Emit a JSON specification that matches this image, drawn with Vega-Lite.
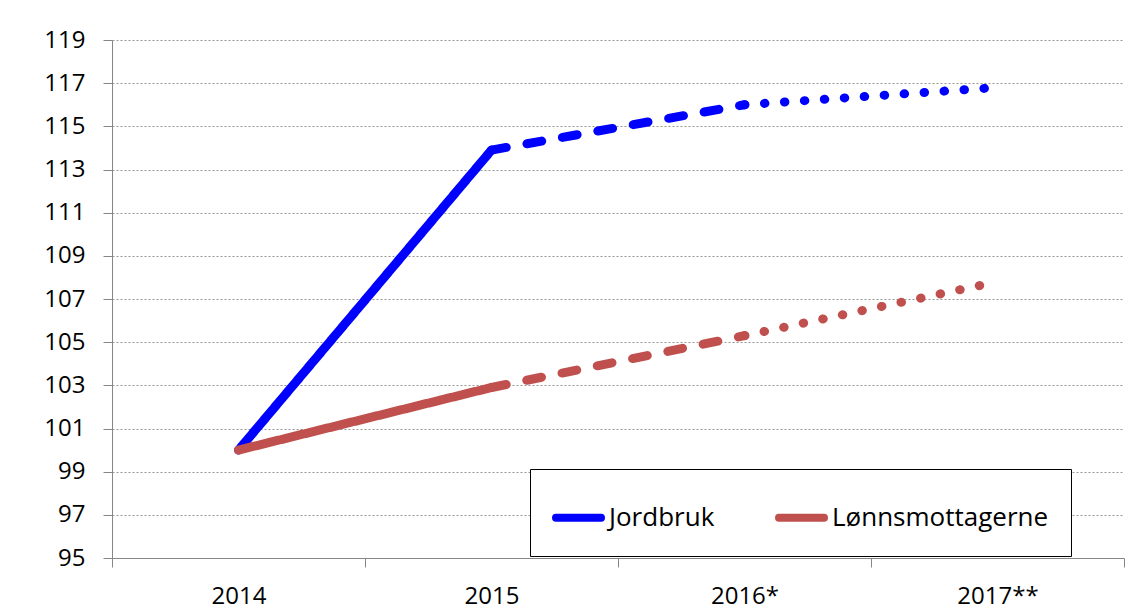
{
  "$schema": "https://vega.github.io/schema/vega-lite/v6.json",
  "width": 1012,
  "height": 518,
  "autosize": "none",
  "padding": {"left": 112, "top": 40, "right": 9, "bottom": 54},
  "background": "white",
  "data": {
    "values": [
      {"serie": "Jordbruk", "år": "2014", "indeks": 100, "periode": "faktisk"},
      {"serie": "Jordbruk", "år": "2015", "indeks": 113.9, "periode": "faktisk"},
      {"serie": "Jordbruk", "år": "2015", "indeks": 113.9, "periode": "anslag"},
      {"serie": "Jordbruk", "år": "2016*", "indeks": 116.0, "periode": "anslag"},
      {"serie": "Jordbruk", "år": "2016*", "indeks": 116.0, "periode": "prognose"},
      {"serie": "Jordbruk", "år": "2017**", "indeks": 116.8, "periode": "prognose"},
      {"serie": "Lønnsmottagerne", "år": "2014", "indeks": 100, "periode": "faktisk"},
      {"serie": "Lønnsmottagerne", "år": "2015", "indeks": 102.9, "periode": "faktisk"},
      {"serie": "Lønnsmottagerne", "år": "2015", "indeks": 102.9, "periode": "anslag"},
      {"serie": "Lønnsmottagerne", "år": "2016*", "indeks": 105.3, "periode": "anslag"},
      {"serie": "Lønnsmottagerne", "år": "2016*", "indeks": 105.3, "periode": "prognose"},
      {"serie": "Lønnsmottagerne", "år": "2017**", "indeks": 107.8, "periode": "prognose"}
    ]
  },
  "mark": {"type": "line", "strokeWidth": 9, "strokeCap": "round", "strokeJoin": "round"},
  "encoding": {
    "x": {
      "field": "år",
      "type": "ordinal",
      "bandPosition": 0.5,
      "scale": {"type": "band", "domain": ["2014", "2015", "2016*", "2017**"], "paddingInner": 0, "paddingOuter": 0},
      "axis": {
        "title": null,
        "labelAngle": 0,
        "tickBand": "extent",
        "tickSize": 9,
        "labelPadding": 17,
        "domainColor": "#868686",
        "tickColor": "#868686",
        "labelFont": "Open Sans",
        "labelFontSize": 24,
        "labelColor": "black",
        "grid": false
      }
    },
    "y": {
      "field": "indeks",
      "type": "quantitative",
      "scale": {"domain": [95, 119], "nice": false, "zero": false},
      "axis": {
        "title": null,
        "values": [95, 97, 99, 101, 103, 105, 107, 109, 111, 113, 115, 117, 119],
        "tickSize": 9,
        "labelPadding": 18,
        "domainColor": "#868686",
        "tickColor": "#868686",
        "grid": true,
        "gridColor": "#969696",
        "gridDash": [2, 2],
        "gridWidth": 1,
        "labelFont": "Open Sans",
        "labelFontSize": 24,
        "labelColor": "black"
      }
    },
    "color": {
      "field": "serie",
      "type": "nominal",
      "scale": {"domain": ["Jordbruk", "Lønnsmottagerne"], "range": ["#0000FF", "#C0504D"]},
      "legend": {
        "title": null,
        "orient": "none",
        "legendX": 418,
        "legendY": 429,
        "direction": "horizontal",
        "columns": 2,
        "columnPadding": 48,
        "padding": 22,
        "strokeColor": "black",
        "fillColor": "white",
        "symbolType": "stroke",
        "symbolSize": 2025,
        "symbolStrokeWidth": 8,
        "labelOffset": 4,
        "labelLimit": 0,
        "labelFont": "Open Sans",
        "labelFontSize": 26,
        "labelColor": "black",
        "encode": {"symbols": {"update": {"strokeCap": {"value": "round"}}}}
      }
    },
    "strokeDash": {
      "field": "periode",
      "type": "nominal",
      "scale": {"domain": ["faktisk", "anslag", "prognose"], "range": [[1, 0], [15, 21], [0.5, 19.5]]},
      "legend": null
    }
  },
  "config": {
    "view": {"stroke": null}
  }
}
